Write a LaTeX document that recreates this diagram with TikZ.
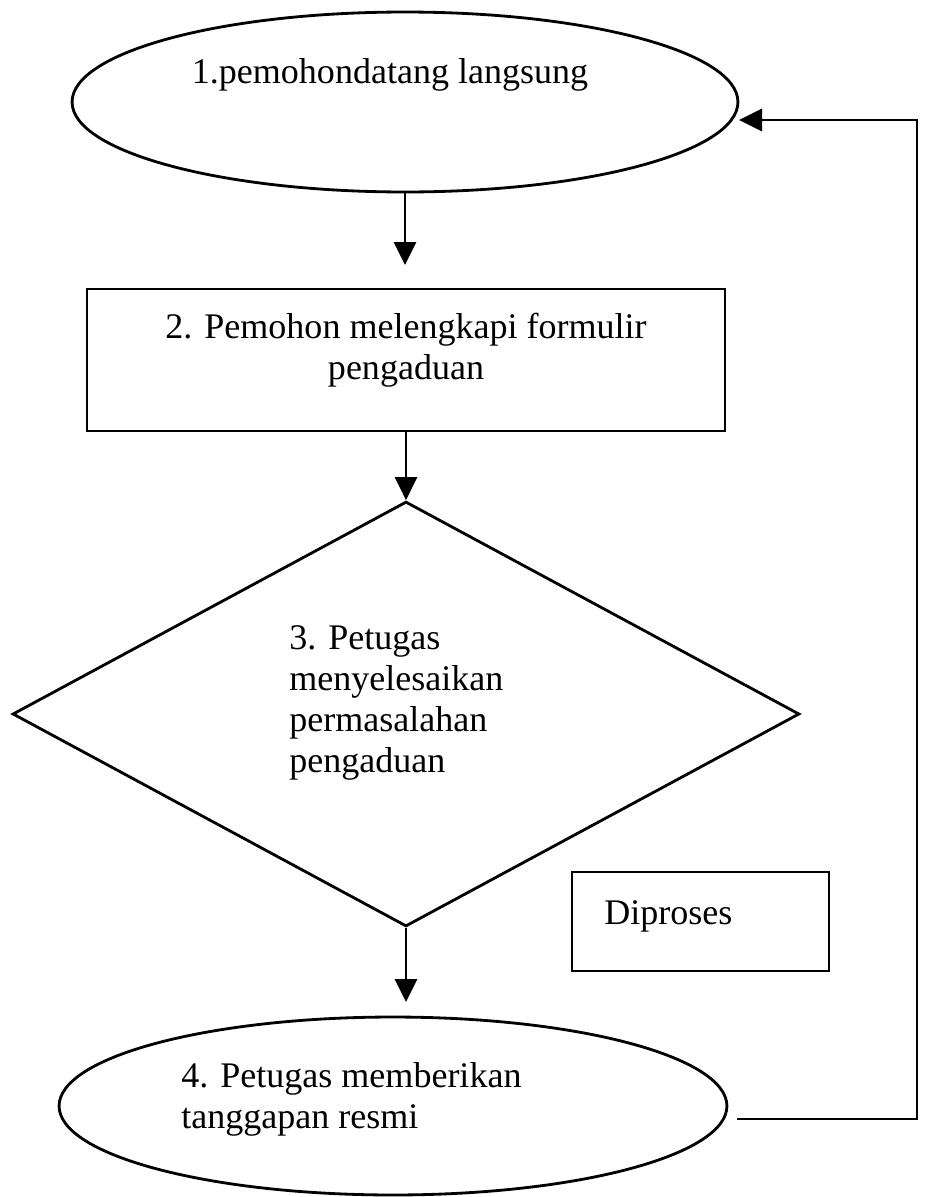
\documentclass[tikz,border=0pt]{standalone}
\usepackage{fontspec}
\setmainfont{Liberation Serif}
\usetikzlibrary{shapes.geometric,arrows.meta}
\begin{document}
\begin{tikzpicture}[x=0.02cm,y=-0.02cm,
  line width=1.6pt,
  shapebox/.style={draw, line width=1.6pt, inner sep=0pt},
  oval/.style={shapebox, ellipse},
  txt/.style={font=\fontsize{20.5}{23.3}\selectfont, inner sep=0pt},
  flow/.style={-{Triangle[length=0.46cm,width=0.44cm]}, line width=1.6pt}]
\useasboundingbox (0,0) rectangle (926,1197);
% shapes
\node[oval, minimum width=13.32cm, minimum height=3.6cm] (e1) at (405,102) {};
\node[shapebox, rectangle, minimum width=12.76cm, minimum height=2.84cm] (r2) at (406,360) {};
\node[shapebox, diamond, minimum width=15.74cm, minimum height=8.5cm] (d3) at (406,714) {};
\node[oval, minimum width=13.36cm, minimum height=3.56cm] (e4) at (393,1106) {};
\node[shapebox, rectangle, minimum width=5.14cm, minimum height=1.98cm] (p5) at (700.5,921.5) {};
% texts (multi-line nodes: base = last line's baseline)
\node[txt, anchor=base] (t1) at (390,83) {1.pemohondatang langsung};
\node[txt, anchor=base, align=center] (t2) at (406,379) {2. Pemohon melengkapi formulir\\pengaduan};
\node[txt, anchor=base west, align=left] (t3) at (288,772) {3. Petugas\\menyelesaikan\\permasalahan\\pengaduan};
\node[txt, anchor=base west, align=left] (t4) at (180,1128) {4. Petugas memberikan\\tanggapan resmi};
\node[txt, anchor=base west] (t5) at (603,924) {Diproses};
% connectors
\coordinate (a1) at (405,265);
\coordinate (a3) at (406,1002);
\draw[flow] (e1.south) -- (a1);
\draw[flow] (r2.south) -- (d3.north);
\draw[flow] (d3.south) -- (a3);
\coordinate (f1) at (737,1119);
\coordinate (f2) at (917,1119);
\coordinate (f3) at (917,120);
\coordinate (f4) at (739,120);
\draw[flow] (f1) -- (f2) -- (f3) -- (f4);
\end{tikzpicture}
\end{document}
